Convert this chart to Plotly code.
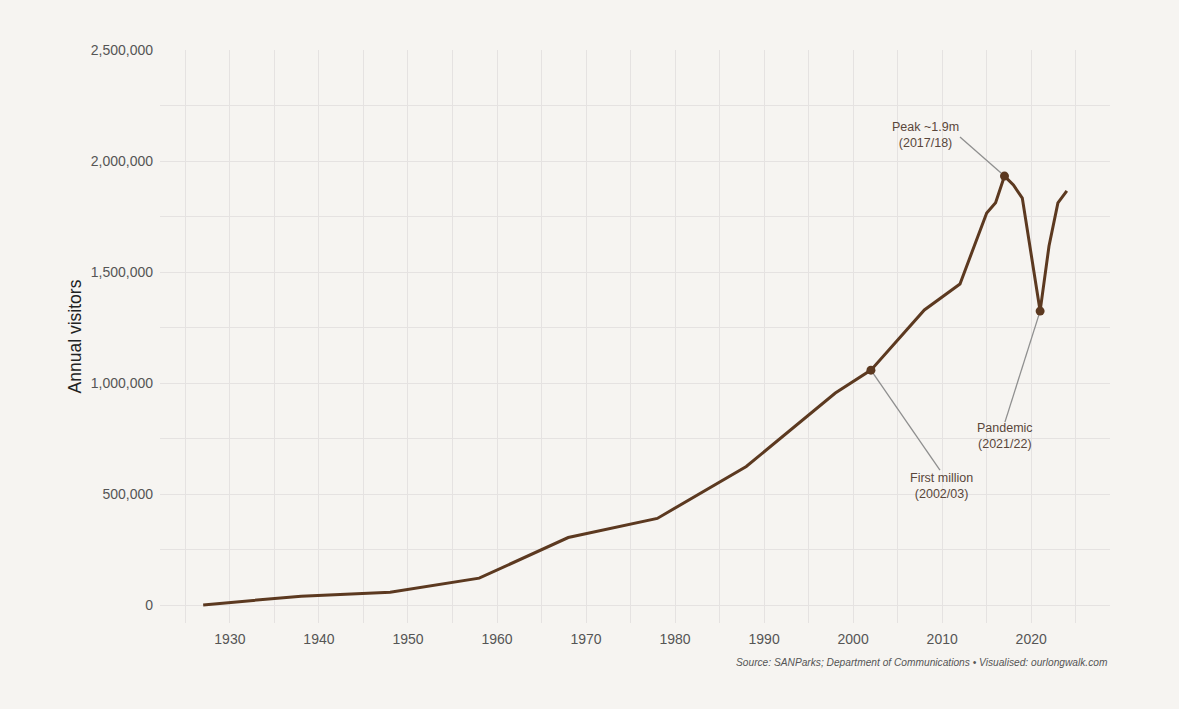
import plotly.graph_objects as go

years = [1927, 1938, 1948, 1958, 1968, 1978, 1988, 1998, 2002, 2008, 2012, 2015, 2016, 2017, 2018, 2019, 2021, 2022, 2023, 2024]
visitors = [500, 40000, 58000, 121000, 304000, 390000, 624000, 955000, 1058000, 1329000, 1446000,
            1766000, 1812000, 1932000, 1892000, 1833000, 1324000, 1617000, 1811000, 1865000]

highlight_years = [2002, 2017, 2021]
highlight_labels = ["First million<br>(2002/03)", "Peak ~1.9m<br>(2017/18)", "Pandemic<br>(2021/22)"]
label_x = [2009.9, 2008.1, 2017.05]
label_y = [536000, 2117000, 761000]
seg_x = [2009.75, 2012.0, 2017.05]
seg_y = [608000, 2108000, 824000]

y_ticks = [0, 500000, 1000000, 1500000, 2000000, 2500000]
y_ticktext = ["0", "500,000", "1,000,000", "1,500,000", "2,000,000", "2,500,000"]
x_ticks = [1930, 1940, 1950, 1960, 1970, 1980, 1990, 2000, 2010, 2020]

LINE = "#5c3920"
BG = "#f6f4f1"
GRID = "#e5e2e1"
TXT = "#5a473b"
FONT = "Liberation Sans, Arial, sans-serif"

hv = [visitors[years.index(y)] for y in highlight_years]

# connector segments
cx, cy = [], []
for px, py, sx, sy in zip(highlight_years, hv, seg_x, seg_y):
    cx += [sx, px, None]
    cy += [sy, py, None]

fig = go.Figure()
fig.add_trace(go.Scatter(x=cx, y=cy, mode="lines", line=dict(color="#8f8f8f", width=1.3),
                         hoverinfo="skip", showlegend=False, connectgaps=False))
fig.add_trace(go.Scatter(x=years, y=visitors, mode="lines",
                         line=dict(color=LINE, width=3), hoverinfo="skip", showlegend=False))
fig.add_trace(go.Scatter(x=highlight_years, y=hv, mode="markers",
                         marker=dict(color=LINE, size=9), hoverinfo="skip", showlegend=False))

annotations = []
for lx, ly, t in zip(label_x, label_y, highlight_labels):
    annotations.append(dict(x=lx, y=ly, xref="x", yref="y", text=t, showarrow=False,
                            font=dict(size=12.5, color=TXT, family=FONT),
                            align="center", xanchor="center", yanchor="middle"))

annotations.append(dict(x=1, y=-0.055, xref="paper", yref="paper",
                        text="<i>Source: SANParks; Department of Communications • Visualised: ourlongwalk.com</i>",
                        showarrow=False, xanchor="right", yanchor="top",
                        font=dict(size=10.2, color="#555555", family=FONT)))

fig.update_layout(
    width=1179, height=709,
    paper_bgcolor=BG, plot_bgcolor=BG,
    margin=dict(l=160, r=69, t=50, b=86),
    font=dict(family=FONT, color="#555555"),
    annotations=annotations,
    xaxis=dict(range=[1922.15, 2028.85], tickvals=x_ticks, showgrid=True, gridcolor=GRID, gridwidth=1.2,
               minor=dict(dtick=5, tick0=1925, showgrid=True, gridcolor=GRID, gridwidth=1),
               zeroline=False, showline=False, ticks="", tickfont=dict(size=14, color="#555555"),
               ticklabelstandoff=6),
    yaxis=dict(range=[-81000, 2500000], tickvals=y_ticks, ticktext=y_ticktext, showgrid=True,
               gridcolor=GRID, gridwidth=1.2,
               minor=dict(dtick=250000, tick0=0, showgrid=True, gridcolor=GRID, gridwidth=1),
               zeroline=False, showline=False, ticks="", tickfont=dict(size=14, color="#555555"),
               title=dict(text="Annual visitors", font=dict(size=17.5, color="#222222"), standoff=4),
               ticklabelstandoff=6),
)

fig.write_html("out.html")
